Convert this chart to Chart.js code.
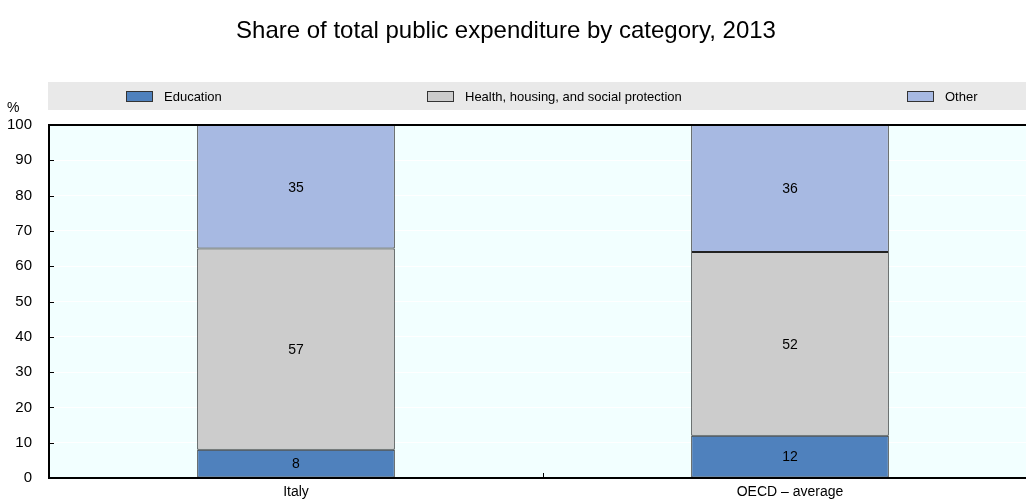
<!DOCTYPE html>
<html>
<head>
<meta charset="utf-8">
<script src="https://cdn.jsdelivr.net/npm/chart.js@4"></script>
<style>
  html, body { margin: 0; padding: 0; background: #fff; overflow: hidden; }
  #wrap { width: 1040px; height: 504px; }
</style>
</head>
<body>
<div id="wrap"><canvas id="gasto-publico"></canvas></div>
<script>
// categorias e valores (%)
const paises = ["Italy", "OECD \u2013 average"];
const educacao = [8, 12];
const saudeHabitacao = [57, 52];
const outros = [35, 36];
const yTicks = [0, 10, 20, 30, 40, 50, 60, 70, 80, 90, 100];

const tituloGrafico = "Share of total public expenditure by category, 2013";
const FONTE = "Arial, 'Liberation Sans', sans-serif";

// fundo da area, legenda em faixa cinza, titulo, moldura e rotulos
const pluginDesenho = {
  id: "desenho",
  beforeDraw(chart) {
    const { ctx, chartArea: a } = chart;
    ctx.save();
    ctx.fillStyle = "#F2FFFF";
    ctx.fillRect(a.left, a.top, a.right - a.left, a.bottom - a.top);

    // titulo
    ctx.fillStyle = "#000";
    ctx.font = "24px " + FONTE;
    ctx.textAlign = "center";
    ctx.textBaseline = "middle";
    ctx.fillText(tituloGrafico, 506, 31);

    // faixa da legenda
    ctx.fillStyle = "#E9E9E9";
    ctx.fillRect(48, 82, chart.width - 48, 28);
    const posX = [126, 427, 907];
    ctx.font = "13px " + FONTE;
    ctx.textAlign = "left";
    chart.data.datasets.forEach((ds, i) => {
      ctx.fillStyle = ds.backgroundColor;
      ctx.fillRect(posX[i], 91, 26, 10);
      ctx.strokeStyle = "#333";
      ctx.lineWidth = 1;
      ctx.strokeRect(posX[i] + 0.5, 91.5, 26, 10);
      ctx.fillStyle = "#000";
      ctx.fillText(ds.label, posX[i] + 38, 97);
    });

    // unidade
    ctx.font = "14px " + FONTE;
    ctx.fillText("%", 7, 108);
    ctx.restore();
  },
  afterDatasetsDraw(chart) {
    const { ctx, chartArea: a } = chart;
    ctx.save();
    // rotulos de valor
    ctx.fillStyle = "#000";
    ctx.font = "14px " + FONTE;
    ctx.textAlign = "center";
    ctx.textBaseline = "middle";
    chart.data.datasets.forEach((ds, i) => {
      chart.getDatasetMeta(i).data.forEach((bar, j) => {
        const c = bar.getCenterPoint();
        ctx.fillText(String(ds.data[j]), c.x, c.y + 1);
      });
    });

    // moldura
    ctx.strokeStyle = "#000";
    ctx.lineWidth = 2;
    ctx.beginPath();
    ctx.moveTo(a.right, a.top);
    ctx.lineTo(a.left, a.top);
    ctx.lineTo(a.left, a.bottom);
    ctx.lineTo(a.right, a.bottom);
    ctx.stroke();

    // marcas internas do eixo y
    const y = chart.scales.y;
    ctx.lineWidth = 1;
    ctx.beginPath();
    yTicks.slice(1, -1).forEach(v => {
      const py = Math.round(y.getPixelForValue(v)) + 0.5;
      ctx.moveTo(a.left, py);
      ctx.lineTo(a.left + 5, py);
    });
    // marca entre categorias
    const x = chart.scales.x;
    const meio = Math.round((x.getPixelForValue(0) + x.getPixelForValue(1)) / 2) + 0.5;
    ctx.moveTo(meio, a.bottom);
    ctx.lineTo(meio, a.bottom - 5);
    ctx.stroke();
    ctx.restore();
  }
};

const dadosGasto = {
  labels: paises,
  datasets: [
    { label: "Education", data: educacao, backgroundColor: "#4F81BD" },
    { label: "Health, housing, and social protection", data: saudeHabitacao, backgroundColor: "#CCCCCC" },
    { label: "Other", data: outros, backgroundColor: "#A7B9E2" }
  ].map(d => Object.assign(d, {
    borderColor: "#222222",
    borderWidth: 1,
    borderSkipped: false,
    barPercentage: 0.4,
    categoryPercentage: 1
  }))
};

const configGasto = {
  type: "bar",
  data: dadosGasto,
  plugins: [pluginDesenho],
  options: {
    responsive: true,
    maintainAspectRatio: false,
    animation: false,
    layout: { padding: { top: 125, left: 0, right: 3, bottom: 0 } },
    plugins: {
      legend: { display: false },
      title: { display: false },
      tooltip: { enabled: false }
    },
    scales: {
      x: {
        stacked: true,
        grid: { display: false, drawTicks: false },
        border: { display: false },
        ticks: { color: "#000", font: { family: FONTE, size: 14 }, padding: 6 },
        afterFit(s) { s.height = 22; }
      },
      y: {
        stacked: true,
        min: 0,
        max: 100,
        afterBuildTicks(s) { s.ticks = yTicks.map(v => ({ value: v })); },
        grid: { color: "#FFFFFF", lineWidth: 1, drawTicks: false },
        border: { display: false },
        ticks: { color: "#000", font: { family: FONTE, size: 15 }, padding: 17 },
        afterFit(s) { s.width = 49; }
      }
    }
  }
};

new Chart(document.getElementById("gasto-publico"), configGasto);
</script>
</body>
</html>
